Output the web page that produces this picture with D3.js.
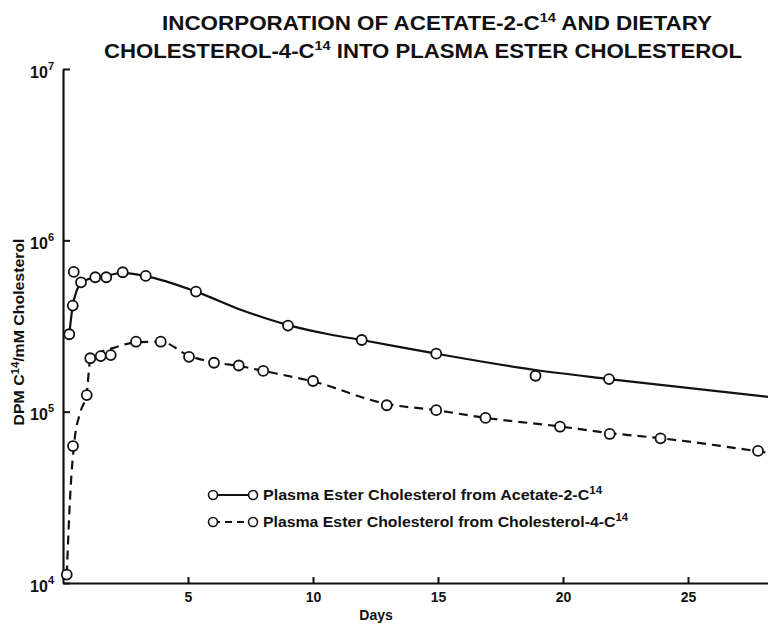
<!DOCTYPE html>
<html>
<head>
<meta charset="utf-8">
<script src="https://cdn.jsdelivr.net/npm/d3@7"></script>
<style>
  html, body { margin: 0; padding: 0; background: #fff; }
  svg { display: block; }
  text { font-family: "Liberation Sans", Arial, sans-serif; font-weight: bold; fill: #111; }
</style>
</head>
<body>
<svg id="chart" width="768" height="628"></svg>
<script>
// ---- data ----
const acetateDays   = [0.25, 0.39, 0.43, 0.72, 1.29, 1.73, 2.39, 3.31, 5.32, 9.0, 11.95, 14.93, 18.9, 21.84];
const acetateValues = [283000, 416000, 654000, 569000, 609000, 609000, 651000, 620000, 502000, 318000, 262000, 218000, 162000, 155000];

const cholDays   = [0.15, 0.4, 0.95, 1.09, 1.51, 1.91, 2.92, 3.91, 5.04, 6.04, 7.03, 8.01, 10.0, 12.95, 14.93, 16.9, 19.88, 21.87, 23.9, 27.8];
const cholValues = [11200, 63000, 125000, 205000, 211000, 214000, 256000, 256000, 209000, 193000, 186000, 173000, 151000, 109000, 102000, 91900, 81700, 74100, 69900, 59000];

// hand-drawn fitted curves
const acetateFitDays   = [0.25, 0.39, 0.55, 0.72, 1.0, 1.29, 1.73, 2.39, 3.31, 5.32, 7.08, 9.01, 10.68, 11.95, 14.93, 18.9, 21.84, 28.2];
const acetateFitValues = [283000, 416000, 510000, 565000, 592000, 609000, 622000, 645000, 618000, 502000, 395000, 320000, 282000, 262000, 218000, 175000, 155000, 122000];

const cholFitDays   = [0.15, 0.3, 0.45, 0.7, 0.95, 1.09, 1.5, 2.0, 2.92, 3.91, 5.04, 6.04, 7.03, 8.01, 10.0, 12.95, 14.93, 16.9, 19.88, 21.87, 23.9, 28.2];
const cholFitValues = [11200, 35000, 66000, 100000, 128000, 200000, 222000, 235000, 254000, 256000, 212000, 194000, 185000, 173000, 150000, 111000, 102000, 92000, 82000, 75000, 70000, 57500];

const xTicks = [5, 10, 15, 20, 25];
const yTicks = [1e4, 1e5, 1e6, 1e7];
const yTickExponents = ["4", "5", "6", "7"];

const titleLine1 = ["INCORPORATION OF ACETATE-2-C", "14", " AND DIETARY"];
const titleLine2 = ["CHOLESTEROL-4-C", "14", " INTO PLASMA ESTER CHOLESTEROL"];
const legendLabels = [
  ["Plasma Ester Cholesterol from  Acetate-2-C", "14"],
  ["Plasma Ester Cholesterol from  Cholesterol-4-C", "14"]
];

// ---- drawing ----
const svg = d3.select("#chart");
const x = d3.scaleLinear().domain([0, 28.2]).range([63, 768]);
const y = d3.scaleLog().domain([1e4, 1e7]).range([583, 69]);

// title
function supText(g, parts, xPos, yPos, size, supSize, length) {
  const t = g.append("text").attr("x", xPos).attr("y", yPos).attr("font-size", size);
  if (length) t.attr("textLength", length).attr("lengthAdjust", "spacingAndGlyphs");
  t.append("tspan").text(parts[0]);
  t.append("tspan").attr("font-size", supSize).attr("dy", -size * 0.4).text(parts[1]);
  if (parts[2] !== undefined) t.append("tspan").attr("dy", size * 0.4).text(parts[2]);
  return t;
}
supText(svg, titleLine1, 162, 30, 20, 13, 550);
supText(svg, titleLine2, 104, 58, 20, 13, 638);

// axes
const xAxis = d3.axisBottom(x).tickValues(xTicks).tickSizeInner(-6).tickSizeOuter(0).tickPadding(9).tickFormat(d3.format("d"));
const gx = svg.append("g").attr("transform", "translate(0,583)").call(xAxis);
gx.select(".domain").attr("stroke", "#111").attr("stroke-width", 2.2);
gx.selectAll(".tick line").attr("stroke", "#111").attr("stroke-width", 2);
gx.selectAll(".tick text").attr("font-size", 14).attr("font-family", "Liberation Sans, Arial, sans-serif").attr("font-weight", "bold").attr("fill", "#111");

const yAxis = d3.axisLeft(y).tickValues(yTicks).tickSizeInner(-7).tickSizeOuter(0).tickFormat("");
const gy = svg.append("g").attr("transform", "translate(63,0)").call(yAxis);
gy.select(".domain").attr("stroke", "#111").attr("stroke-width", 2.2);
gy.selectAll(".tick line").attr("stroke", "#111").attr("stroke-width", 2);
gy.selectAll(".tick").each(function(d) {
  const t = d3.select(this).append("text")
    .attr("x", -9).attr("y", 8).attr("text-anchor", "end")
    .attr("font-size", 16).attr("fill", "#111");
  t.append("tspan").text("10");
  t.append("tspan").attr("font-size", 11).attr("dy", -8).text(yTickExponents[yTicks.indexOf(d)]);
});

// axis titles
svg.append("text").attr("x", 376).attr("y", 620).attr("text-anchor", "middle").attr("font-size", 14).text("Days");
const yl = svg.append("text").attr("transform", "translate(24,332) rotate(-90)").attr("text-anchor", "middle")
  .attr("font-size", 14).attr("textLength", 187).attr("lengthAdjust", "spacingAndGlyphs");
yl.append("tspan").text("DPM C");
yl.append("tspan").attr("font-size", 10).attr("dy", -5).text("14");
yl.append("tspan").attr("dy", 5).text("/mM Cholesterol");

// curves
const line = d3.line().x(d => x(d[0])).y(d => y(d[1])).curve(d3.curveMonotoneX);
svg.append("path").datum(d3.zip(acetateFitDays, acetateFitValues))
  .attr("d", line).attr("fill", "none").attr("stroke", "#111").attr("stroke-width", 2.2);
svg.append("path").datum(d3.zip(cholFitDays, cholFitValues))
  .attr("d", line).attr("fill", "none").attr("stroke", "#111").attr("stroke-width", 2.2)
  .attr("stroke-dasharray", "9,6");

// points
function points(days, vals) {
  svg.append("g").selectAll("circle").data(d3.zip(days, vals)).join("circle")
    .attr("cx", d => x(d[0])).attr("cy", d => y(d[1])).attr("r", 5)
    .attr("fill", "#fff").attr("stroke", "#111").attr("stroke-width", 1.8);
}
points(acetateDays, acetateValues);
points(cholDays, cholValues);

// legend
const lg = svg.append("g");
const rows = [{ y: 495, dash: null, len: 339 }, { y: 522, dash: "7,5", len: 365 }];
rows.forEach((r, i) => {
  lg.append("line").attr("x1", 213).attr("x2", 253).attr("y1", r.y).attr("y2", r.y)
    .attr("stroke", "#111").attr("stroke-width", 1.8).attr("stroke-dasharray", r.dash);
  [213, 253].forEach(cx => lg.append("circle").attr("cx", cx).attr("cy", r.y).attr("r", 4.5)
    .attr("fill", "#fff").attr("stroke", "#111").attr("stroke-width", 1.6));
  const t = lg.append("text").attr("x", 263).attr("y", r.y + 5).attr("font-size", 14)
    .attr("textLength", r.len).attr("lengthAdjust", "spacingAndGlyphs");
  t.append("tspan").text(legendLabels[i][0]);
  t.append("tspan").attr("font-size", 10).attr("dy", -6).text(legendLabels[i][1]);
});
</script>
</body>
</html>
